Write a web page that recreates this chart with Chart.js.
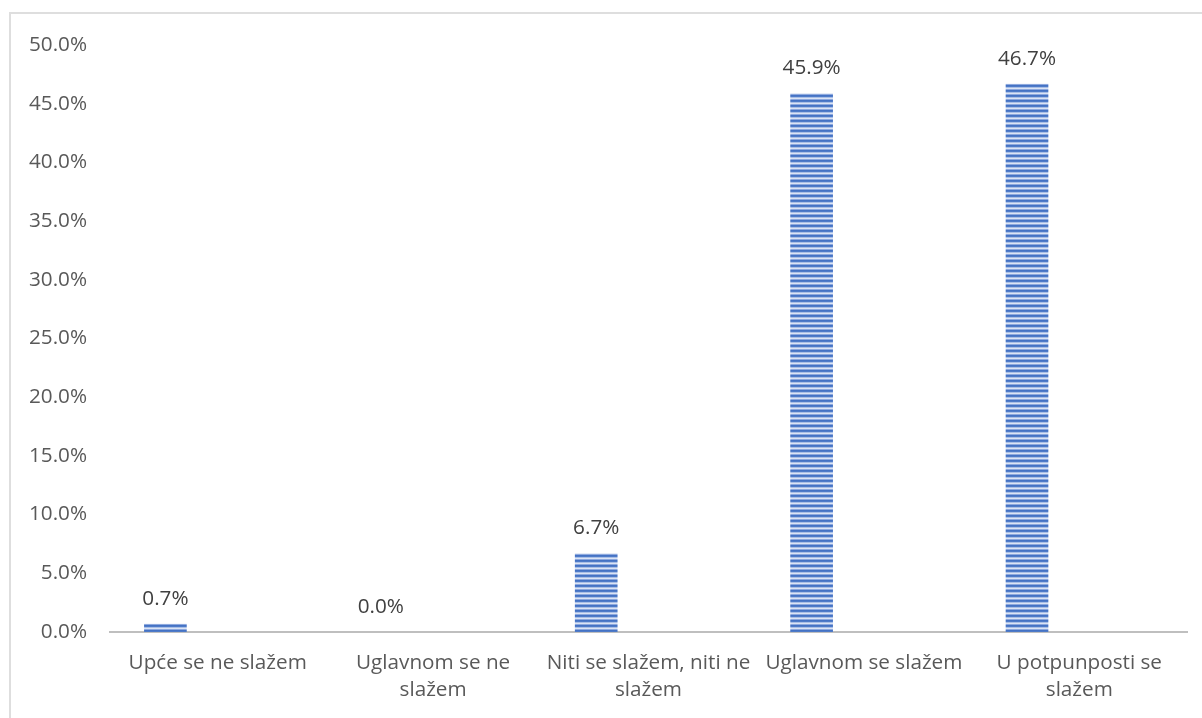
<!DOCTYPE html>
<html>
<head>
<meta charset="utf-8">
<script src="https://cdn.jsdelivr.net/npm/chart.js@4/dist/chart.umd.min.js"></script>
<style>
  html, body { margin: 0; padding: 0; background: #fff; overflow: hidden; width: 1202px; height: 718px; }
  #frame { position: absolute; left: 9px; top: 12px; width: 1400px; height: 900px; border: 2px solid #dedede; box-sizing: border-box; }
  #c { position: absolute; left: 0; top: 0; }
</style>
</head>
<body>
<div id="frame"></div>
<canvas id="c" width="1202" height="718"></canvas>
<script>
const categories = [
  "Upće se ne slažem",
  ["Uglavnom se ne", "slažem"],
  ["Niti se slažem, niti ne", "slažem"],
  "Uglavnom se slažem",
  ["U potpunposti se", "slažem"]
];
const percentValues = [0.7, 0.0, 6.7, 45.9, 46.7];
const emptySeries = [null, null, null, null, null];
const yTickMin = 0, yTickMax = 50, yTickStep = 5;

const FONT = "'Open Sans', 'Noto Sans', sans-serif";

function makeStripePattern() {
  const p = document.createElement('canvas');
  p.width = 5; p.height = 5;
  const g = p.getContext('2d');
  const rows = ['#4472c4', '#4f7bc8', '#a9bfe7', '#dbe4f5', '#8ea9de'];
  rows.forEach((col, i) => { g.fillStyle = col; g.fillRect(0, i, 5, 1); });
  return document.getElementById('c').getContext('2d').createPattern(p, 'repeat');
}

const labelPlugin = {
  id: 'valueLabels',
  afterDatasetsDraw(chart) {
    const ctx = chart.ctx;
    const meta = chart.getDatasetMeta(0);
    ctx.save();
    ctx.font = "20.7px " + FONT;
    ctx.fillStyle = '#404040';
    ctx.textAlign = 'center';
    ctx.textBaseline = 'middle';
    meta.data.forEach((bar, i) => {
      const v = chart.data.datasets[0].data[i];
      ctx.fillText(v.toFixed(1) + '%', bar.x, bar.y - 25);
    });
    ctx.restore();
  }
};

new Chart(document.getElementById('c'), {
  type: 'bar',
  data: {
    labels: categories,
    datasets: [
      { data: percentValues, backgroundColor: makeStripePattern(), borderWidth: 0 },
      { data: emptySeries, backgroundColor: 'rgba(0,0,0,0)' }
    ]
  },
  options: {
    responsive: false,
    devicePixelRatio: 1,
    animation: false,
    categoryPercentage: 0.971,
    barPercentage: 0.408,
    layout: { padding: { top: 45, right: 15, bottom: 0, left: 0 } },
    plugins: { legend: { display: false }, tooltip: { enabled: false } },
    scales: {
      x: {
        grid: { display: false, drawTicks: false },
        border: { display: true, color: '#bfbfbf', width: 2 },
        ticks: {
          color: '#595959',
          font: { family: FONT, size: 20.7, lineHeight: 1.3 },
          padding: 18,
          maxRotation: 0,
          autoSkip: false
        },
        afterFit(s) { s.height = 86; }
      },
      y: {
        min: yTickMin,
        max: yTickMax,
        grid: { display: false, drawTicks: false },
        border: { display: false },
        ticks: {
          stepSize: yTickStep,
          color: '#595959',
          font: { family: FONT, size: 20.7 },
          padding: 23,
          callback: v => v.toFixed(1) + '%'
        },
        afterFit(s) { s.width = 110; }
      }
    }
  },
  plugins: [labelPlugin]
});
</script>
</body>
</html>
